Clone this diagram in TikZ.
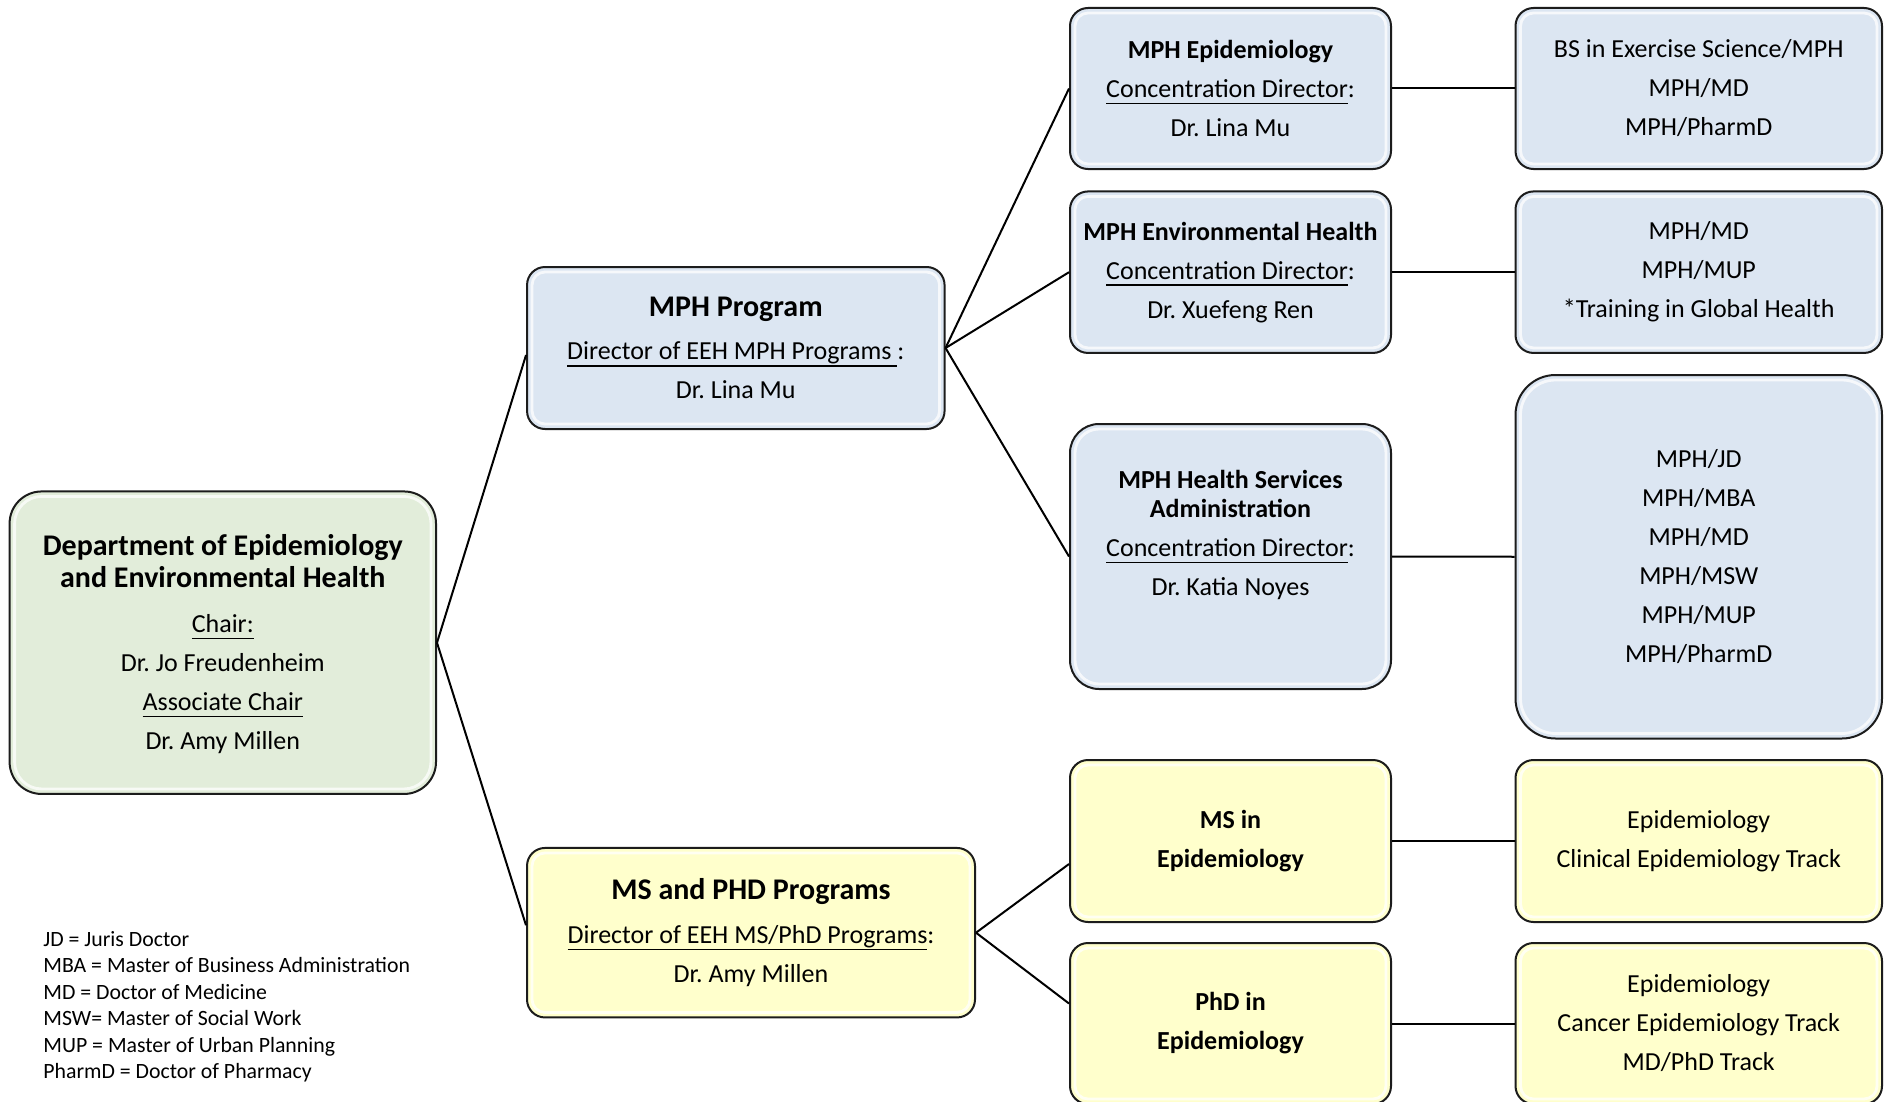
\documentclass[tikz,border=0pt]{standalone}
\usepackage{fontspec}
\setmainfont{Carlito}
\frenchspacing
\definecolor{bfill}{RGB}{220,230,242}
\definecolor{gfill}{RGB}{226,237,218}
\definecolor{yfill}{RGB}{255,255,204}
\definecolor{edge}{RGB}{28,28,28}
\newcommand{\bigtitle}{\bfseries\fontsize{15pt}{15.5pt}\selectfont}
\newcommand{\uln}[1]{\setbox0\hbox{#1}\rlap{\rule[-3.4pt]{\wd0}{0.8pt}}\box0}
\begin{document}
\begin{tikzpicture}[x=0.5pt,y=-0.5pt,
  bx/.style n args={3}{draw=edge, line width=1pt, inner sep=0pt, align=center,
    minimum width=#1*0.5pt, minimum height=#2*0.5pt, rounded corners=#3*0.5pt,
    font=\fontsize{13pt}{19.5pt}\selectfont,
    path picture={\draw[white, line width=1.4pt, opacity=0.75, rounded corners=#3*0.5pt-2.5pt]
      ([shift={(2.5pt,2.5pt)}]path picture bounding box.south west) rectangle
      ([shift={(-2.5pt,-2.5pt)}]path picture bounding box.north east);}},
  blue/.style={fill=bfill}, green/.style={fill=gfill}, yellow/.style={fill=yfill},
  conn/.style={draw=black, line width=1pt},
  legend/.style={align=left, inner sep=0pt, font=\fontsize{10.9pt}{13.2pt}\selectfont}]
\useasboundingbox (0,0) rectangle (1889,1102);
\clip (0,0) rectangle (1889,1102);
\fill[white] (0,0) rectangle (1889,1102);

% root
\node[bx={426.4}{302.5}{32}, green] (root) at (222.8,642.7)
  {\mbox{}\\[-7.5pt]
   {\bigtitle Department of Epidemiology}\\[-3.5pt]
   {\bigtitle and Environmental Health}\\[3pt]
   \uln{Chair:}\\ Dr. Jo Freudenheim\\ \uln{Associate Chair}\\ Dr. Amy Millen};

% level 1
\node[bx={417.5}{162}{18}, blue] (mph) at (735.8,348)
  {{\bigtitle MPH Program}\\[2.3pt]
   \uln{Director of EEH MPH Programs\ }:\\ Dr. Lina Mu};
\node[bx={448}{169.5}{18}, yellow] (msphd) at (751,932.7)
  {{\bigtitle MS and PHD Programs}\\[2.3pt]
   \uln{Director of EEH MS/PhD Programs}:\\ Dr. Amy Millen};

% level 2
\node[bx={321}{161}{18}, blue] (epi) at (1230.5,88.5)
  {\textbf{MPH Epidemiology}\\ \uln{Concentration Director}:\\ Dr. Lina Mu};
\node[bx={321}{161.5}{18}, blue] (eh) at (1230.5,272.2)
  {\textbf{MPH Environmental Health}\\ \uln{Concentration Director}:\\ Dr. Xuefeng Ren};
\node[bx={321}{265}{29}, blue] (hsa) at (1230.5,556.5)
  {\textbf{MPH Health Services}\\[-5pt] \textbf{Administration}\\
   \uln{Concentration Director}:\\ Dr. Katia Noyes\\[4pt] \mbox{}};
\node[bx={321}{162}{18}, yellow] (msepi) at (1230.5,841)
  {\textbf{MS in}\\ \textbf{Epidemiology}};
\node[bx={321}{161}{18}, yellow] (phd) at (1230.5,1023.5)
  {\textbf{PhD in}\\ \textbf{Epidemiology}};

% level 3
\node[bx={366.5}{161}{18}, blue] (r1) at (1698.75,88.5)
  {BS in Exercise Science/MPH\\ MPH/MD\\ MPH/PharmD};
\node[bx={366.5}{161.5}{18}, blue] (r2) at (1698.75,272.2)
  {MPH/MD\\ MPH/MUP\\ *Training in Global Health};
\node[bx={366.5}{363.5}{40}, blue] (r3) at (1698.75,556.75)
  {MPH/JD\\ MPH/MBA\\ MPH/MD\\ MPH/MSW\\ MPH/MUP\\ MPH/PharmD};
\node[bx={366.5}{162}{18}, yellow] (r4) at (1698.75,841)
  {Epidemiology\\ Clinical Epidemiology Track};
\node[bx={366.5}{161}{18}, yellow] (r5) at (1698.75,1023.5)
  {Epidemiology\\ Cancer Epidemiology Track\\ MD/PhD Track};

% connectors
\draw[conn] (root.east) -- ([yshift=-3.5pt]mph.west);
\draw[conn] (root.east) -- ([yshift=3.75pt]msphd.west);
\draw[conn] (mph.east) -- (epi.west);
\draw[conn] (mph.east) -- (eh.west);
\draw[conn] (mph.east) -- (hsa.west);
\draw[conn] (msphd.east) -- ([yshift=-11.5pt]msepi.west);
\draw[conn] (msphd.east) -- ([yshift=10pt]phd.west);
\draw[conn] (epi.east) -- (r1.west);
\draw[conn] (eh.east) -- (r2.west);
\draw[conn] (hsa.east) -- (r3.west);
\draw[conn] (msepi.east) -- (r4.west);
\draw[conn] (phd.east) -- (r5.west);

% legend
\node[legend, anchor=north west] (legend) at (43,931)
  {JD = Juris Doctor\\ MBA = Master of Business Administration\\ MD = Doctor of Medicine\\
   MSW= Master of Social Work\\ MUP = Master of Urban Planning\\ PharmD = Doctor of Pharmacy};
\end{tikzpicture}
\end{document}
